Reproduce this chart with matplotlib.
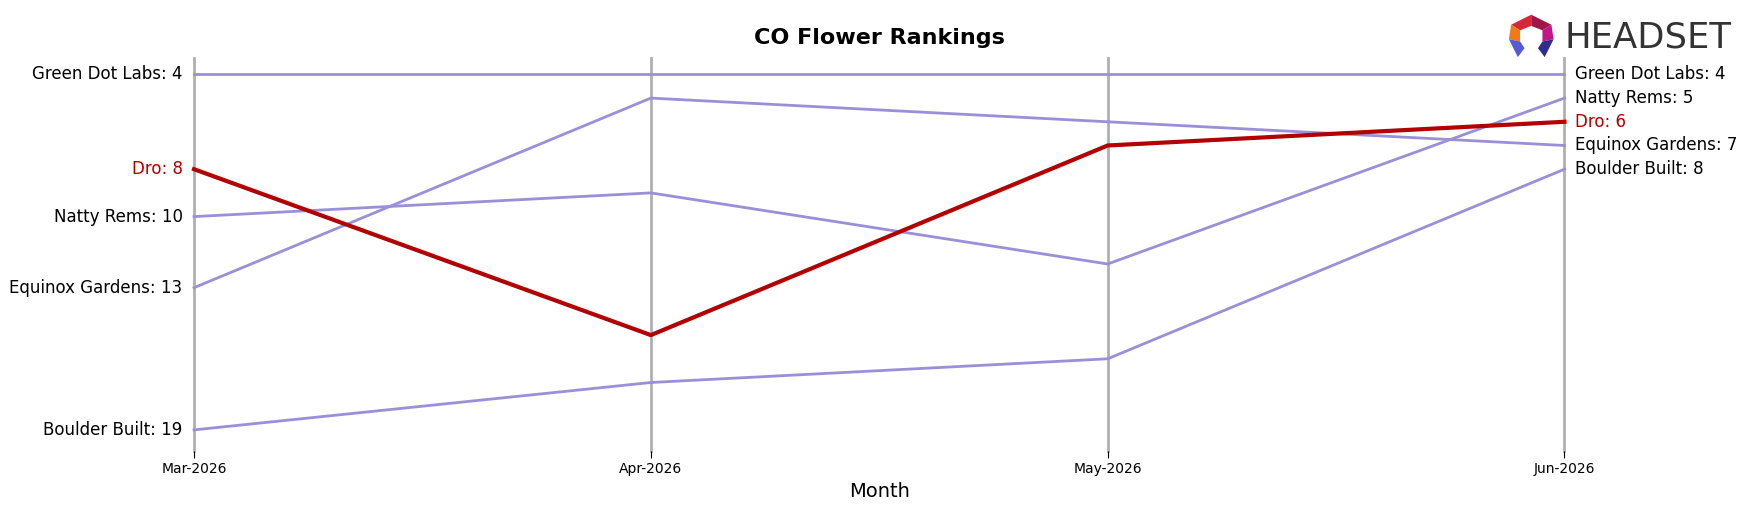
import matplotlib
matplotlib.use("Agg")
import matplotlib.pyplot as plt
from matplotlib.patches import Polygon

months = ["Mar-2026", "Apr-2026", "May-2026", "Jun-2026"]
brands = ["Green Dot Labs", "Natty Rems", "Dro", "Equinox Gardens", "Boulder Built"]
green_dot = [4, 4, 4, 4]
natty_rems = [10, 9, 12, 5]
dro = [8, 15, 7, 6]
equinox = [13, 5, 6, 7]
boulder = [19, 17, 16, 8]
ranks = [green_dot, natty_rems, dro, equinox, boulder]
highlight = "Dro"

PURPLE = "#9b8fd9"
RED = "#b30000"

fig = plt.figure(figsize=(17.48, 5.07), dpi=100)
ax = fig.add_axes([0.111, 0.110, 0.784, 0.776])

x = list(range(len(months)))
for xi in x:
    ax.axvline(xi, color="#b0b0b0", lw=2, zorder=1, clip_on=False)

for name, r in zip(brands, ranks):
    if name == highlight:
        ax.plot(x, r, color=RED, lw=3, zorder=3, clip_on=False)
    else:
        ax.plot(x, r, color=PURPLE, lw=2, zorder=2, clip_on=False)

# end labels
for name, r in zip(brands, ranks):
    c = RED if name == highlight else "black"
    ax.text(-0.025, r[0], f"{name}: {r[0]}", ha="right", va="center", fontsize=12, color=c)
    ax.text(x[-1] + 0.022, r[-1], f"{name}: {r[-1]}", ha="left", va="center", fontsize=12, color=c)

ax.set_xlim(0, 3)
ax.set_ylim(19.9, 3.3)
ax.set_yticks([])
ax.set_xticks(x)
ax.set_xticklabels(months, fontsize=10)
ax.tick_params(axis="x", length=5, pad=3)
for s in ax.spines.values():
    s.set_visible(False)
ax.set_xlabel("Month", fontsize=14)
ax.set_title("CO Flower Rankings", fontsize=16, fontweight="bold", pad=10)

# headset logo
lx, ly = 0.876, 0.927  # fig coords of icon centre
sx, sy = 0.0128, 0.044
def poly(pts, col):
    fig.patches.append(Polygon([(lx + px * sx, ly + py * sy) for px, py in pts],
                               closed=True, transform=fig.transFigure,
                               facecolor=col, edgecolor="none"))
poly([(-0.9, 0.55), (0, 1.0), (0, 0.5), (-0.5, 0.3)], "#d9263a")
poly([(0, 1.0), (0.9, 0.55), (0.5, 0.3), (0, 0.5)], "#a0154a")
poly([(-0.9, 0.55), (-0.5, 0.3), (-0.5, -0.2), (-1.0, -0.1)], "#f07a1a")
poly([(0.9, 0.55), (1.0, -0.1), (0.5, -0.2), (0.5, 0.3)], "#c0168a")
poly([(-1.0, -0.1), (-0.5, -0.2), (-0.3, -0.5), (-0.6, -0.9)], "#5a5ad0")
poly([(1.0, -0.1), (0.5, -0.2), (0.3, -0.5), (0.6, -0.9)], "#2e2e8e")
fig.text(0.895, 0.927, "HEADSET", fontsize=25.5, color="#333333", va="center", ha="left",
         family="DejaVu Sans")

fig.savefig("out.png", dpi=100)
